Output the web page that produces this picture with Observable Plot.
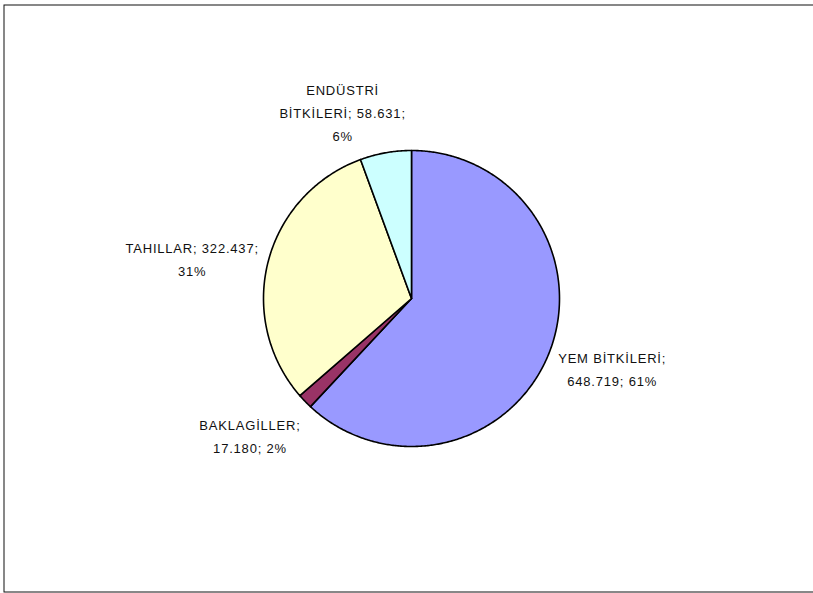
<!DOCTYPE html>
<html>
<head>
<meta charset="utf-8">
<script src="https://cdn.jsdelivr.net/npm/d3@7"></script>
<script src="https://cdn.jsdelivr.net/npm/@observablehq/plot@0.6"></script>
<style>
  html, body { margin: 0; padding: 0; background: #fff; }
  #chart svg text { letter-spacing: 0.8px; }
</style>
</head>
<body>
<div id="chart"></div>
<script>
// ---- data ----
const categories = ["YEM BİTKİLERİ", "BAKLAGİLLER", "TAHILLAR", "ENDÜSTRİ BİTKİLERİ"];
const values = [648719, 17180, 322437, 58631];
const percents = [61, 2, 31, 6]; // as printed on the chart
const colors = ["#9999FF", "#993366", "#FFFFCC", "#CCFFFF"];

// ---- layout (label placement, not data) ----
// word indices after which a line break occurs
const labelBreaks = [[1], [0], [1], [0, 2]];
// pixel offsets of each label's centre from the slice's mid-arc point
const labelOffsets = [[63, 14], [-55, 33], [-76, -5], [-43, -42]];

const W = 813, H = 593;
const CX = 411, CY = 298, R = 148;

const trLocale = d3.formatLocale({decimal: ",", thousands: ".", grouping: [3], currency: ["", ""]});
const fmt = trLocale.format(",d");

const pie = d3.pie().sort(null).value(d => d.value)
  .startAngle(0).endAngle(2 * Math.PI);
const data = categories.map((c, i) => ({name: c, value: values[i], pct: percents[i], color: colors[i], i}));
const arcs = pie(data);

// slice outlines in unit coordinates (angle measured clockwise from top)
const slicePts = [];
for (const a of arcs) {
  const name = a.data.name;
  slicePts.push({name, x: 0, y: 0});
  const n = Math.max(2, Math.ceil((a.endAngle - a.startAngle) / (Math.PI / 360)));
  for (let k = 0; k <= n; k++) {
    const t = a.startAngle + (a.endAngle - a.startAngle) * k / n;
    slicePts.push({name, x: Math.sin(t), y: Math.cos(t)});
  }
  slicePts.push({name, x: 0, y: 0});
}

// labels
const labels = arcs.map(a => {
  const d = a.data;
  const words = (d.name + "; " + fmt(d.value) + "; " + d.pct + "%").split(" ");
  const brk = labelBreaks[d.i];
  const text = words.map((w, k) => w + (k < words.length - 1 ? (brk.includes(k) ? "\n" : " ") : "")).join("");
  const mid = (a.startAngle + a.endAngle) / 2;
  const [ox, oy] = labelOffsets[d.i];
  return {text, x: Math.sin(mid) + ox / R, y: Math.cos(mid) - oy / R};
});

const chart = Plot.plot({
  width: W,
  height: H,
  margin: 0,
  x: {domain: [-1, 1], range: [CX - R, CX + R], axis: null},
  y: {domain: [-1, 1], range: [CY + R, CY - R], axis: null},
  color: {domain: categories, range: colors},
  style: {fontFamily: "'Liberation Sans', Arial, sans-serif", background: "#fff"},
  marks: [
    Plot.frame({stroke: "#111", strokeWidth: 1, insetLeft: 3.5, insetTop: 4.5, insetBottom: 1.5, insetRight: -3}),
    Plot.line(slicePts, {
      x: "x", y: "y", z: "name", fill: "name",
      stroke: "#000", strokeWidth: 1.6, strokeLinejoin: "round", curve: "linear"
    }),
    Plot.text(labels, {
      x: "x", y: "y", text: "text",
      fontSize: 13, lineHeight: 1.77, textAnchor: "middle", lineAnchor: "middle",
      fill: "#111"
    })
  ]
});
document.getElementById("chart").appendChild(chart);
</script>
</body>
</html>
